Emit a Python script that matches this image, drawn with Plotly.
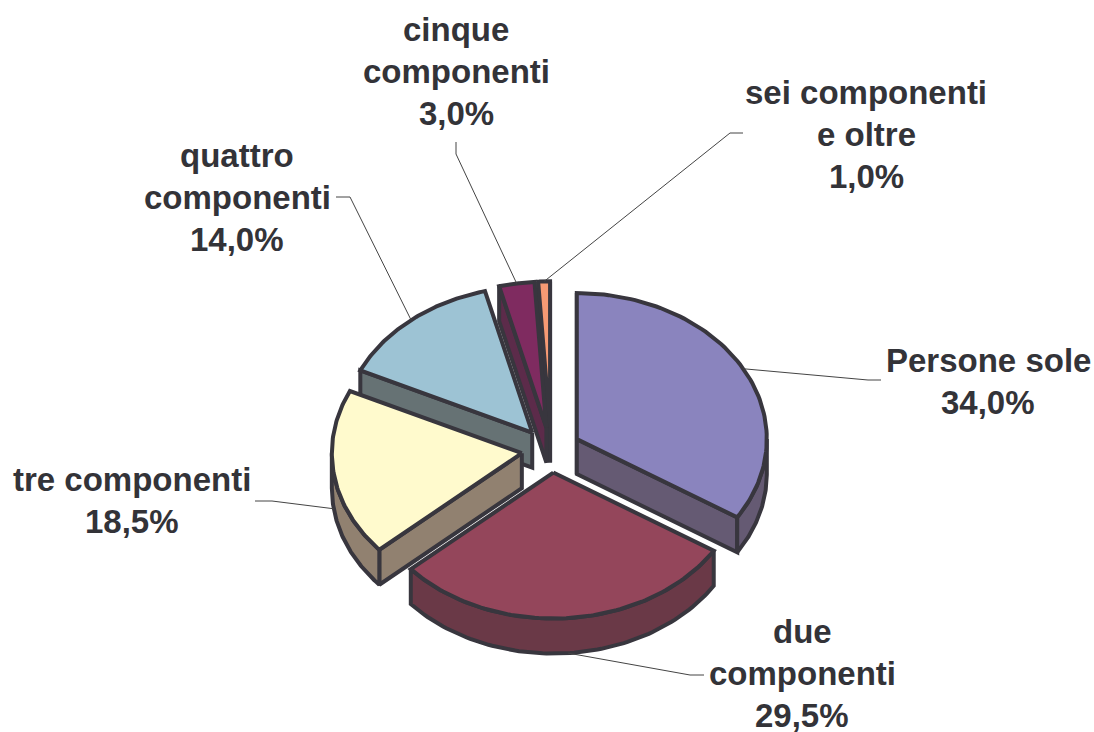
import numpy as np
import plotly.graph_objects as go

# ---- data ----
categories = ["Persone sole", "due componenti", "tre componenti",
              "quattro componenti", "cinque componenti", "sei componenti e oltre"]
values = [34.0, 29.5, 18.5, 14.0, 3.0, 1.0]
label_lines = [["Persone sole"], ["due", "componenti"], ["tre componenti"],
               ["quattro", "componenti"], ["cinque", "componenti"], ["sei componenti", "e oltre"]]

# ---- styles ----
top_colors = ["#8A84BE", "#94465B", "#FFFACD", "#9DC3D4", "#7F2B60", "#F79A74"]
side_colors = ["#655A73", "#6A3947", "#918170", "#667274", "#5C2B4A", "#8A5A4C"]
OUTLINE = "#38363E"
TEXT = "#333338"
W, H = 1094, 732
CX, CY, RX, RY, DEPTH, PULL = 551, 450, 190, 146, 35, 0.155
FONT = dict(family="Liberation Sans", size=33, color=TEXT)
# label centres (x, first line y) and leader elbows (elbow, end)
label_pos = [(988, 360), (802, 631), (132, 479), (237, 155), (456, 29), (866, 92)]
LINE_STEP = 42.3
leaders = [[(868, 380), (881, 380)], [(690, 675), (704, 675)], [(272, 501), (255, 501)],
           [(350, 197), (336, 197)], [(456, 154), (456, 142)], [(730, 133), (743, 133)]]
leader_depth = [0, 1, 1, 0, 0, 0]
draw_order = [5, 4, 3, 0, 2, 1]

fig = go.Figure()


def poly(xs, ys, fill):
    fig.add_trace(go.Scatter(x=list(xs) + [xs[0]], y=list(ys) + [ys[0]], mode="lines", fill="toself",
                             fillcolor=fill, hoverinfo="skip",
                             line=dict(color=OUTLINE, width=4)))


# slice angles from values
total = sum(values)
edges = np.cumsum([0] + values) / total * 2 * np.pi
geo = []
for i in range(len(values)):
    a0, a1 = edges[i], edges[i + 1]
    m = (a0 + a1) / 2
    ax = CX + PULL * RX * np.sin(m)
    ay = CY - PULL * RY * np.cos(m)
    geo.append((a0, a1, m, ax, ay))

for i in draw_order:
    a0, a1, m, ax, ay = geo[i]
    t = np.linspace(a0, a1, 90)
    ex = ax + RX * np.sin(t)
    ey = ay - RY * np.cos(t)
    # radial walls, only those that face the viewer (or are seen edge-on)
    if np.sin(a0) <= 1e-9:
        poly([ax, ex[0], ex[0], ax], [ay, ey[0], ey[0] + DEPTH, ay + DEPTH], side_colors[i])
    if np.sin(a1) >= -1e-9:
        poly([ax, ex[-1], ex[-1], ax], [ay, ey[-1], ey[-1] + DEPTH, ay + DEPTH], side_colors[i])
    # outer wall, only the part facing the viewer
    lo, hi = max(a0, np.pi / 2), min(a1, 3 * np.pi / 2)
    if hi > lo:
        tt = np.linspace(lo, hi, 90)
        wx = ax + RX * np.sin(tt)
        wy = ay - RY * np.cos(tt)
        poly(list(wx) + list(wx[::-1]), list(wy) + list(wy[::-1] + DEPTH), side_colors[i])
    # top face
    poly([ax] + list(ex), [ay] + list(ey), top_colors[i])

# leader lines and labels
for i, lines in enumerate(label_lines):
    a0, a1, m, ax, ay = geo[i]
    sx = ax + RX * np.sin(m)
    sy = ay - RY * np.cos(m) + DEPTH * leader_depth[i]
    (ex1, ey1), (ex2, ey2) = leaders[i]
    fig.add_trace(go.Scatter(x=[sx, ex1, ex2], y=[sy, ey1, ey2], mode="lines", hoverinfo="skip",
                             line=dict(color="#444444", width=1)))
    lx, ly = label_pos[i]
    texts = lines + [f"{values[i]:.1f}%".replace(".", ",")]
    for j, s in enumerate(texts):
        fig.add_annotation(x=lx, y=ly + j * LINE_STEP, text=f"<b>{s}</b>", showarrow=False,
                           xanchor="center", yanchor="middle", font=FONT)

fig.update_layout(width=W, height=H, margin=dict(l=0, r=0, t=0, b=0), showlegend=False,
                  paper_bgcolor="white", plot_bgcolor="white",
                  xaxis=dict(range=[0, W], visible=False, fixedrange=True),
                  yaxis=dict(range=[H, 0], visible=False, fixedrange=True))
fig.write_html("out.html", config={"displayModeBar": False},
               post_script="document.body.style.margin='0';document.body.style.overflow='hidden';")
